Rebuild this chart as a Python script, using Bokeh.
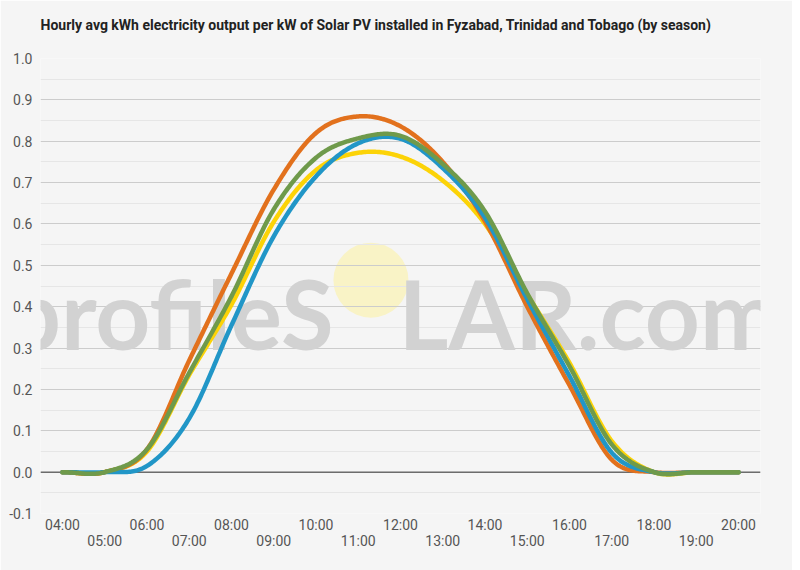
import numpy as np
from bokeh.plotting import figure
from bokeh.models import (Range1d, FixedTicker, Legend, LegendItem,
                          Span, Label, Title, NumeralTickFormatter)
from bokeh.embed import file_html
from bokeh.resources import INLINE

# hourly averages (kWh per kW installed)
hours = [4, 5, 6, 7, 8, 9, 10, 11, 12, 13, 14, 15, 16, 17, 18, 19, 20]
hour_labels = ["04:00", "05:00", "06:00", "07:00", "08:00", "09:00", "10:00", "11:00", "12:00",
               "13:00", "14:00", "15:00", "16:00", "17:00", "18:00", "19:00", "20:00"]
summer = [0, 0, 0.05, 0.235, 0.405, 0.605, 0.73, 0.772, 0.763, 0.705, 0.60, 0.43, 0.264, 0.075, 0, 0, 0]
autumn = [0, 0, 0.055, 0.27, 0.48, 0.683, 0.82, 0.86, 0.836, 0.75, 0.606, 0.40, 0.21, 0.03, 0, 0, 0]
winter = [0, 0, 0.015, 0.13, 0.355, 0.57, 0.715, 0.795, 0.806, 0.735, 0.615, 0.418, 0.232, 0.047, 0, 0, 0]
spring = [0, 0, 0.055, 0.24, 0.425, 0.635, 0.76, 0.807, 0.813, 0.745, 0.63, 0.432, 0.256, 0.067, 0, 0, 0]
seasons = ["Summer", "Autumn", "Winter", "Spring"]
colors = ["#fcd307", "#e2711d", "#2196c7", "#6f9a4b"]
y_ticks = [-0.1, 0.0, 0.1, 0.2, 0.3, 0.4, 0.5, 0.6, 0.7, 0.8, 0.9, 1.0]
y_minor = [-0.05, 0.05, 0.15, 0.25, 0.35, 0.45, 0.55, 0.65, 0.75, 0.85, 0.95]

BG = "#f5f5f5"


def smooth(xs, ys, n=30):
    # cardinal (catmull-rom) curve through the hourly points
    xs = np.asarray(xs, float)
    ys = np.asarray(ys, float)
    m = np.zeros_like(ys)
    m[1:-1] = (ys[2:] - ys[:-2]) / (xs[2:] - xs[:-2])
    m[0] = (ys[1] - ys[0]) / (xs[1] - xs[0])
    m[-1] = (ys[-1] - ys[-2]) / (xs[-1] - xs[-2])
    out_x, out_y = [], []
    for i in range(len(xs) - 1):
        h = xs[i + 1] - xs[i]
        t = np.linspace(0, 1, n, endpoint=False)
        h00 = 2 * t**3 - 3 * t**2 + 1
        h10 = t**3 - 2 * t**2 + t
        h01 = -2 * t**3 + 3 * t**2
        h11 = t**3 - t**2
        out_x.extend(xs[i] + t * h)
        out_y.extend(h00 * ys[i] + h10 * h * m[i] + h01 * ys[i + 1] + h11 * h * m[i + 1])
    out_x.append(xs[-1])
    out_y.append(ys[-1])
    return out_x, out_y


p = figure(frame_width=720, frame_height=455, output_backend="svg", toolbar_location=None,
           x_range=Range1d(3.48, 20.52), y_range=Range1d(-0.1, 1.0),
           background_fill_color=BG, border_fill_color=BG, outline_line_color=None,
           min_border_left=0, min_border_right=32, min_border_top=0, min_border_bottom=0)

# small spacer between the title and the plot area
p.add_layout(Title(text=" ", text_font_size="1px", standoff=8), "above")
p.title.text = ("Hourly avg kWh electricity output per kW of Solar PV installed in "
                "Fyzabad, Trinidad and Tobago (by season)")
p.title.text_font = "Roboto"
p.title.text_font_size = "14px"
p.title.text_font_style = "bold"
p.title.text_color = "#222222"
p.title.standoff = 29

# watermark
p.add_layout(Label(x=10.42, y=0.386, text="profileS", text_align="right", text_baseline="alphabetic",
                   text_font="Lato", text_font_style="bold", text_font_size="96px",
                   text_color="#d2d2d2", level="underlay"))
p.add_layout(Label(x=11.95, y=0.386, text="LAR.com", text_align="left", text_baseline="alphabetic",
                   text_font="Lato", text_font_style="bold", text_font_size="96px",
                   text_color="#d2d2d2", level="underlay"))
p.circle(x=[11.30], y=[0.464], radius=37.5, radius_units="screen",
         fill_color="#f9f3c6", line_color=None, level="image")

# grid
p.xgrid.visible = False
p.ygrid.ticker = FixedTicker(ticks=y_ticks, minor_ticks=y_minor)
p.ygrid.grid_line_color = "#cccccc"
p.ygrid.minor_grid_line_color = "#e6e6e6"
p.add_layout(Span(location=0, dimension="width", line_color="#333333", line_width=1, level="underlay"))

# y axis
p.yaxis.ticker = FixedTicker(ticks=y_ticks)
p.yaxis.formatter = NumeralTickFormatter(format="0.0")
p.yaxis.axis_line_color = None
p.yaxis.major_tick_line_color = None
p.yaxis.minor_tick_line_color = None
p.yaxis.major_tick_out = 0
p.yaxis.major_label_standoff = 8
p.yaxis.major_label_text_font = "Roboto"
p.yaxis.major_label_text_font_size = "14px"
p.yaxis.major_label_text_color = "#555555"
p.yaxis.axis_label = " "
p.yaxis.axis_label_text_font_size = "1px"
p.yaxis.axis_label_standoff = 2

# x axis: even hours on the first row, odd hours on a second row
xa = p.xaxis[0]
xa.ticker = FixedTicker(ticks=hours)
xa.major_label_overrides = {h: (lab if h % 2 == 0 else "\n" + lab) for h, lab in zip(hours, hour_labels)}
xa.axis_line_color = None
xa.major_tick_line_color = None
xa.minor_tick_line_color = None
xa.major_tick_out = 0
xa.major_tick_in = 0
xa.major_label_standoff = 3
xa.major_label_text_font = "Roboto"
xa.major_label_text_font_size = "14px"
xa.major_label_text_color = "#555555"
xa.major_label_text_line_height = 1.0

items = []
for name, col, ys in zip(seasons, colors, [summer, autumn, winter, spring]):
    sx, sy = smooth(hours, ys)
    r = p.line(sx, sy, line_color=col, line_width=4.5, line_join="round", line_cap="round")
    items.append(LegendItem(label=name, renderers=[r]))

legend = Legend(items=items, orientation="horizontal", location="top_center",
                border_line_color=None, background_fill_alpha=0,
                label_text_font="Roboto", label_text_font_size="14px", label_text_color="#444444",
                glyph_width=27, glyph_height=12, label_height=12, label_standoff=6,
                spacing=24, padding=0, margin=0)
p.add_layout(legend, "below")

open("out.html", "w").write(file_html(p, INLINE))
